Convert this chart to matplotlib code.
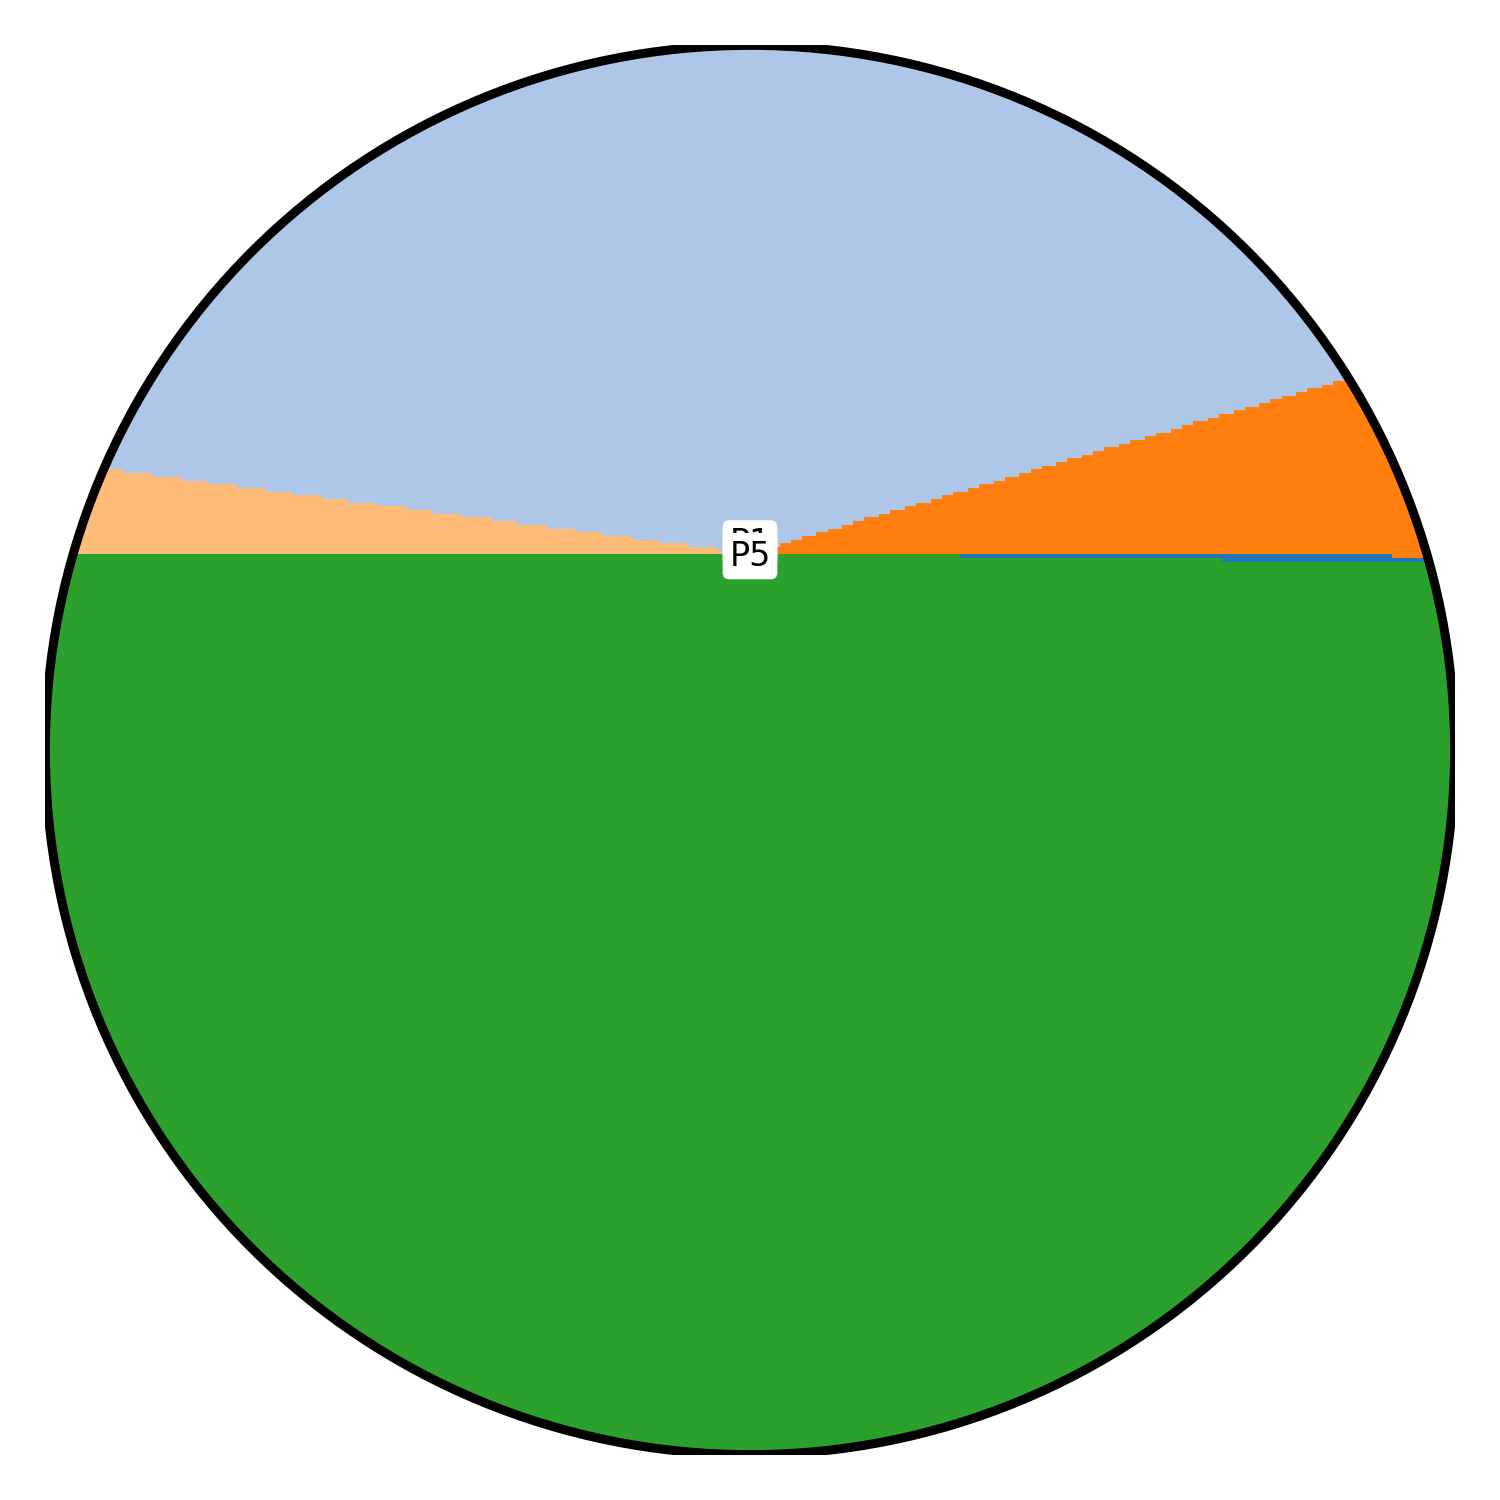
import numpy as np
import matplotlib.pyplot as plt
from matplotlib.colors import ListedColormap
from matplotlib.patches import Circle

# Pie-like share of each part (percent)
labels = ['P1', 'P2', 'P3', 'P4', 'P5']
shares = [0.15, 43.4, 4.6, 2.07, 49.78]
colors = ['#1f77b4', '#aec7e8', '#ff7f0e', '#ffbb78', '#2ca02c']
order = [0, 2, 1, 3, 4]     # counter-clockwise order of the wedges
start_angle = -0.8          # degrees, where the first wedge begins
apex = (0.0, 0.279)         # point where the wedges meet
n_cells = 382               # grid resolution of the rendered field
shown = ['P1', 'P5']

# classify each grid cell by its angle round the apex
xs = -1 + (np.arange(n_cells) + 0.5) * 2 / n_cells
X, Y = np.meshgrid(xs, xs)
ang = (np.degrees(np.arctan2(Y - apex[1], X - apex[0])) - start_angle) % 360
bounds = np.cumsum([shares[i] for i in order]) / sum(shares) * 360
slot = np.clip(np.searchsorted(bounds, ang, side='right'), 0, len(order) - 1)
field = np.array(order)[slot]

fig = plt.figure(figsize=(15, 15), dpi=100)
ax = fig.add_axes([0.03, 0.03, 0.94, 0.94])

im = ax.imshow(field, origin='lower', extent=(-1, 1, -1, 1),
               cmap=ListedColormap(colors), vmin=-0.5, vmax=len(colors) - 0.5,
               interpolation='nearest')
clip = Circle((0, 0), 0.999, transform=ax.transData)
im.set_clip_path(clip)

# outline; its outer half gets cut by the axes box, as in the original
ax.add_patch(Circle((0, 0), 0.9995, fill=False, ec='black', lw=6.5))

offsets = {'P1': 0.014, 'P5': -0.004}
for name in shown:
    ax.text(apex[0], apex[1] + offsets[name], name, ha='center', va='center',
            fontsize=24,
            bbox=dict(boxstyle='round,pad=0.2', fc='white', ec='none'))

ax.set_xlim(-1, 1)
ax.set_ylim(-1, 1)
ax.set_aspect('equal')
ax.axis('off')

fig.savefig('out.png', dpi=100)
